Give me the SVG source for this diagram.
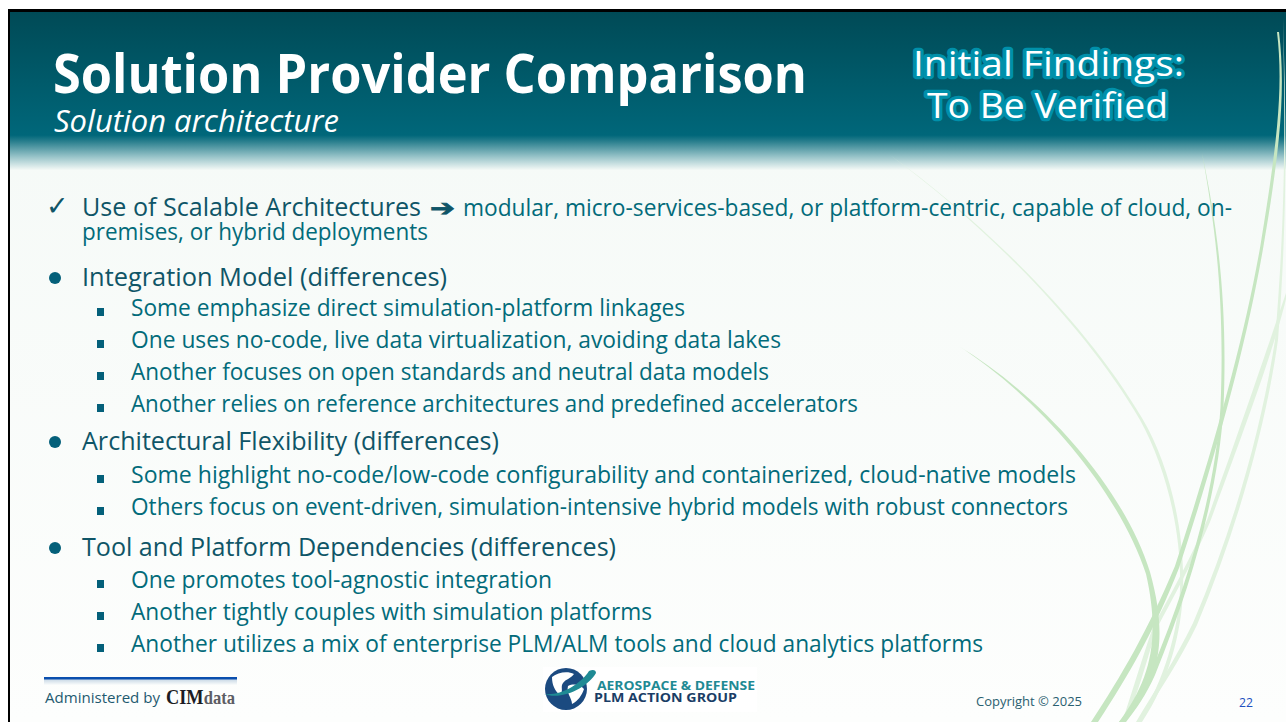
<svg xmlns="http://www.w3.org/2000/svg" width="1286" height="722" viewBox="0 0 1286 722">
<style>
text{font-family:"Open Sans","Noto Sans","Liberation Sans",sans-serif}
.h{font-size:25.5px;fill:#0f5567}
.s{font-size:23.5px;fill:#026b7a}
.sq{fill:#04607a}
.dot{fill:#04607a}
.mid{fill:#c6e6c1}
.light{fill:#e1f2df}
.ini{font-size:34px;fill:#fff;stroke:#0090aa;stroke-width:6.5px;paint-order:stroke;stroke-linejoin:round;text-anchor:start}
</style>
<defs>
<linearGradient id="head" x1="0" y1="0" x2="0" y2="1">
<stop offset="0" stop-color="#004a56"/>
<stop offset="0.78" stop-color="#00677a"/>
<stop offset="0.82" stop-color="#2a7f8e"/>
<stop offset="0.92" stop-color="#9cc6cb"/>
<stop offset="1" stop-color="#f4f9f6"/>
</linearGradient>
<linearGradient id="bg" x1="0" y1="0" x2="0" y2="1">
<stop offset="0" stop-color="#f4f9f6"/>
<stop offset="1" stop-color="#fdfefd"/>
</linearGradient>
<linearGradient id="sh" x1="0" y1="0" x2="0" y2="1">
<stop offset="0" stop-color="#c5d6e4"/>
<stop offset="1" stop-color="#fbfdfc"/>
</linearGradient>
</defs>
<rect width="1286" height="722" fill="#fff"/>
<g id="slide">
<rect x="8" y="9" width="1278" height="713" fill="#000"/>
<rect x="10" y="12" width="1276" height="710" fill="url(#bg)"/>
<rect x="10" y="12" width="1276" height="158" fill="url(#head)"/>
</g>
<g id="grass">
<path class="light" d="M1283,18C1285,120 1286,210 1275,340C1262,425 1235,525 1193,623C1175,660 1155,690 1136,722L1140,722C1160,690 1180,660 1197,625C1238,527 1266,425 1278,340C1288,210 1286,120 1283,18Z"/>
<path class="light" d="M1286,293C1270,340 1245,415 1207,520C1190,560 1170,595 1153,627C1143,655 1133,690 1122,722L1126,722C1137,695 1146,665 1156,630C1173,598 1193,562 1210,522C1249,417 1275,345 1286,299Z"/>
<path class="light" d="M890,155C985,225 1085,325 1140,420C1165,465 1182,530 1180,590C1178,630 1165,680 1138,722L1142,722C1169,682 1182,630 1183,590C1185,530 1169,463 1142,418C1087,324 986,224 890,155Z"/>
<path class="mid" d="M957,345C1040,398 1118,490 1146,574C1161,640 1150,680 1119,722L1125,722C1159,682 1169,640 1150,572C1124,488 1042,396 957,345Z"/>
<path class="mid" d="M1202,153C1215,225 1225,300 1220.5,407C1216,480 1194,570 1151,672C1142,693 1131,708 1119,722L1126,722C1137,708 1146,695 1155,675C1197,572 1219,482 1223.5,408C1228,300 1217,225 1202,153Z"/>
<path class="mid" d="M1277,32C1284,90 1276,150 1260.5,245C1244,340 1213,450 1175,566C1148,630 1122,675 1091,722L1098,722C1128,676 1154,632 1179,568C1217,452 1247,342 1263.5,246C1280,150 1286,90 1279,32Z"/>
</g>
<g id="title">
<text x="53" y="93" font-size="53" font-weight="700" fill="#fff" textLength="754" lengthAdjust="spacingAndGlyphs">Solution Provider Comparison</text>
<text x="54" y="132" font-size="31" font-style="italic" fill="#fff" textLength="285" lengthAdjust="spacingAndGlyphs">Solution architecture</text>
</g>
<g id="stamp">
<text class="ini" x="913" y="76" textLength="271" lengthAdjust="spacingAndGlyphs">Initial Findings:</text>
<text class="ini" x="927" y="118" textLength="241" lengthAdjust="spacingAndGlyphs">To Be Verified</text>
</g>
<g id="body">
<text x="46" y="215" font-size="27" fill="#0f5567" style="font-family:'DejaVu Sans',sans-serif">✓</text>
<text class="h" x="82" y="216" textLength="339" lengthAdjust="spacingAndGlyphs">Use of Scalable Architectures</text>
<text x="430" y="216" font-size="23" font-weight="700" fill="#0f5567" stroke="#0f5567" stroke-width="0.8" style="font-family:'DejaVu Sans',sans-serif" textLength="25" lengthAdjust="spacingAndGlyphs">➔</text>
<text class="s" x="463" y="216" textLength="769" lengthAdjust="spacingAndGlyphs">modular, micro-services-based, or platform-centric, capable of cloud, on-</text>
<text class="s" x="82" y="240" textLength="346" lengthAdjust="spacingAndGlyphs">premises, or hybrid deployments</text>

<circle class="dot" cx="55" cy="278" r="6"/>
<text class="h" x="82" y="286" textLength="365" lengthAdjust="spacingAndGlyphs">Integration Model (differences)</text>
<rect class="sq" x="97" y="308" width="7" height="8"/>
<text class="s" x="131" y="316" textLength="554" lengthAdjust="spacingAndGlyphs">Some emphasize direct simulation-platform linkages</text>
<rect class="sq" x="97" y="340" width="7" height="8"/>
<text class="s" x="131" y="348" textLength="650" lengthAdjust="spacingAndGlyphs">One uses no-code, live data virtualization, avoiding data lakes</text>
<rect class="sq" x="97" y="372" width="7" height="8"/>
<text class="s" x="131" y="380" textLength="638" lengthAdjust="spacingAndGlyphs">Another focuses on open standards and neutral data models</text>
<rect class="sq" x="97" y="404" width="7" height="8"/>
<text class="s" x="131" y="412" textLength="727" lengthAdjust="spacingAndGlyphs">Another relies on reference architectures and predefined accelerators</text>

<circle class="dot" cx="55" cy="442" r="6"/>
<text class="h" x="82" y="450" textLength="417" lengthAdjust="spacingAndGlyphs">Architectural Flexibility (differences)</text>
<rect class="sq" x="97" y="475" width="7" height="8"/>
<text class="s" x="131" y="483" textLength="945" lengthAdjust="spacingAndGlyphs">Some highlight no-code/low-code configurability and containerized, cloud-native models</text>
<rect class="sq" x="97" y="507" width="7" height="8"/>
<text class="s" x="131" y="515" textLength="937" lengthAdjust="spacingAndGlyphs">Others focus on event-driven, simulation-intensive hybrid models with robust connectors</text>

<circle class="dot" cx="55" cy="548" r="6"/>
<text class="h" x="82" y="556" textLength="534" lengthAdjust="spacingAndGlyphs">Tool and Platform Dependencies (differences)</text>
<rect class="sq" x="97" y="580" width="7" height="8"/>
<text class="s" x="131" y="588" textLength="421" lengthAdjust="spacingAndGlyphs">One promotes tool-agnostic integration</text>
<rect class="sq" x="97" y="612" width="7" height="8"/>
<text class="s" x="131" y="620" textLength="521" lengthAdjust="spacingAndGlyphs">Another tightly couples with simulation platforms</text>
<rect class="sq" x="97" y="644" width="7" height="8"/>
<text class="s" x="131" y="652" textLength="852" lengthAdjust="spacingAndGlyphs">Another utilizes a mix of enterprise PLM/ALM tools and cloud analytics platforms</text>
</g>
<g id="administered">
<rect x="44" y="679" width="193" height="6" fill="url(#sh)"/>
<rect x="44" y="677" width="193" height="2.5" fill="#0a4fae"/>
<text x="45" y="703" font-size="15" fill="#1f5a70" textLength="115" lengthAdjust="spacingAndGlyphs">Administered by</text>
<text x="166" y="704" font-size="21" font-weight="700" fill="#1c1c24" style="font-family:'Liberation Serif',serif" textLength="69" lengthAdjust="spacingAndGlyphs">CIM<tspan fill="#5d5d64" font-size="19">data</tspan></text>
</g>
<g id="logo">
<rect x="543" y="667" width="214" height="45" fill="#fff"/>
<circle cx="566" cy="689" r="21" fill="#1b4a80"/>
<path d="M552,677C558,672 568,671 574,674C570,679 566,679 563,683C560,687 564,691 560,695C555,691 552,685 552,677Z" fill="#fff"/>
<path d="M568,686C574,683 581,685 584,689C582,695 578,701 572,704C572,698 566,693 568,686Z" fill="#fff"/>
<path d="M544,694C560,696 580,685 589,671C593,669 596,670 596,673C589,686 563,701 544,694Z" fill="#1f8a94"/>
<text x="597" y="690" font-size="12.5" font-weight="700" fill="#1f8a94" textLength="158" lengthAdjust="spacingAndGlyphs">AEROSPACE &amp; DEFENSE</text>
<text x="594" y="702" font-size="12.5" font-weight="700" fill="#1a3d66" textLength="143" lengthAdjust="spacingAndGlyphs">PLM ACTION GROUP</text>
</g>
<g id="foot">
<text x="976" y="706" font-size="13" fill="#2a6070" textLength="106" lengthAdjust="spacingAndGlyphs">Copyright © 2025</text>
<text x="1239" y="707" font-size="13" fill="#2050c0" textLength="14" lengthAdjust="spacingAndGlyphs">22</text>
</g>
</svg>
